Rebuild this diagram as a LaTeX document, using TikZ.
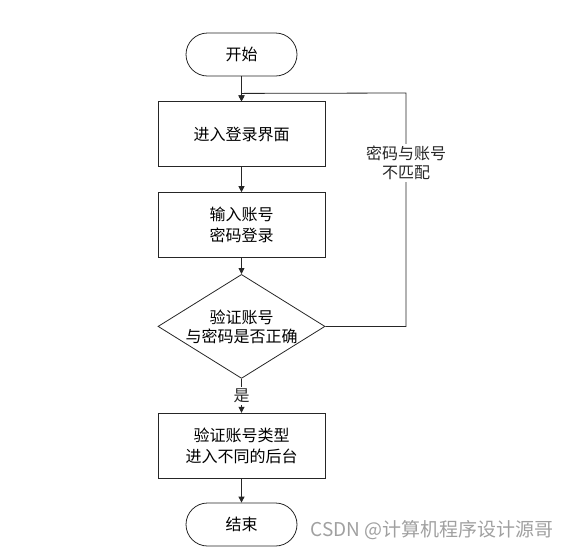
\documentclass[tikz,border=0pt]{standalone}
\usepackage{fontspec}
\newfontfamily\cjk{Noto Sans CJK SC}
\usepackage{tikz}
\usetikzlibrary{shapes.geometric, arrows.meta, positioning, calc}
\definecolor{lineblack}{HTML}{262626}
\definecolor{markgray}{HTML}{A0A0A0}
\tikzset{
    startstop/.style={rectangle, rounded corners=21.5pt, minimum width=111pt, minimum height=43pt, text centered, align=center, draw=lineblack, line width=0.8pt, font=\cjk\fontsize{16}{20}\selectfont},
    process/.style={rectangle, minimum width=167pt, minimum height=65pt, text centered, align=center, draw=lineblack, line width=0.8pt, font=\cjk\fontsize{16}{21}\selectfont},
    decision/.style={diamond, aspect=1.6, minimum width=167pt, minimum height=104pt, inner sep=-4pt, text centered, align=center, draw=lineblack, line width=0.8pt, font=\cjk\fontsize{16}{19}\selectfont},
    arrow/.style={line width=0.8pt, -{Triangle[length=6pt, width=6pt]}, color=lineblack},
    looplabel/.style={fill=white, align=center, inner sep=2pt, font=\cjk\fontsize{16}{19}\selectfont},
    watermark/.style={text=markgray, font=\cjk\fontsize{19}{22}\selectfont}
}

\begin{document}
\begin{tikzpicture}
    \useasboundingbox (0pt,0pt) rectangle (573pt,-550pt);
    \node (start) [startstop] at (241.5pt,-54.5pt) {开始};
    \node (login) [process, below=25pt of start] {进入登录界面};
    \node (input) [process, below=25pt of login] {输入账号\\密码登录};
    \node (check) [decision, below=16pt of input] {验证账号\\与密码是否正确};
    \node (enter) [process, below=34pt of check] {验证账号类型\\进入不同的后台};
    \node (stop) [startstop, below=24pt of enter] {结束};

    \coordinate (loopin) at ($(login.north)+(0,8pt)$);
    \coordinate (loopcorner) at (406pt,-93pt);

    \draw [arrow] (start) -- (login);
    \draw [arrow] (login) -- (input);
    \draw [arrow] (input) -- (check);
    \draw [arrow] (check) -- node [looplabel] (yes) {是} (enter);
    \draw [arrow] (enter) -- (stop);
    \draw [arrow] (check.east) -| node [looplabel, pos=0.85] (mismatch) {密码与账号\\不匹配} (loopcorner)
        -- (loopin) -- (login.north);
    \node (mark) [watermark, anchor=east] at (557pt,-530pt) {CSDN @计算机程序设计源哥};
\end{tikzpicture}
\end{document}
